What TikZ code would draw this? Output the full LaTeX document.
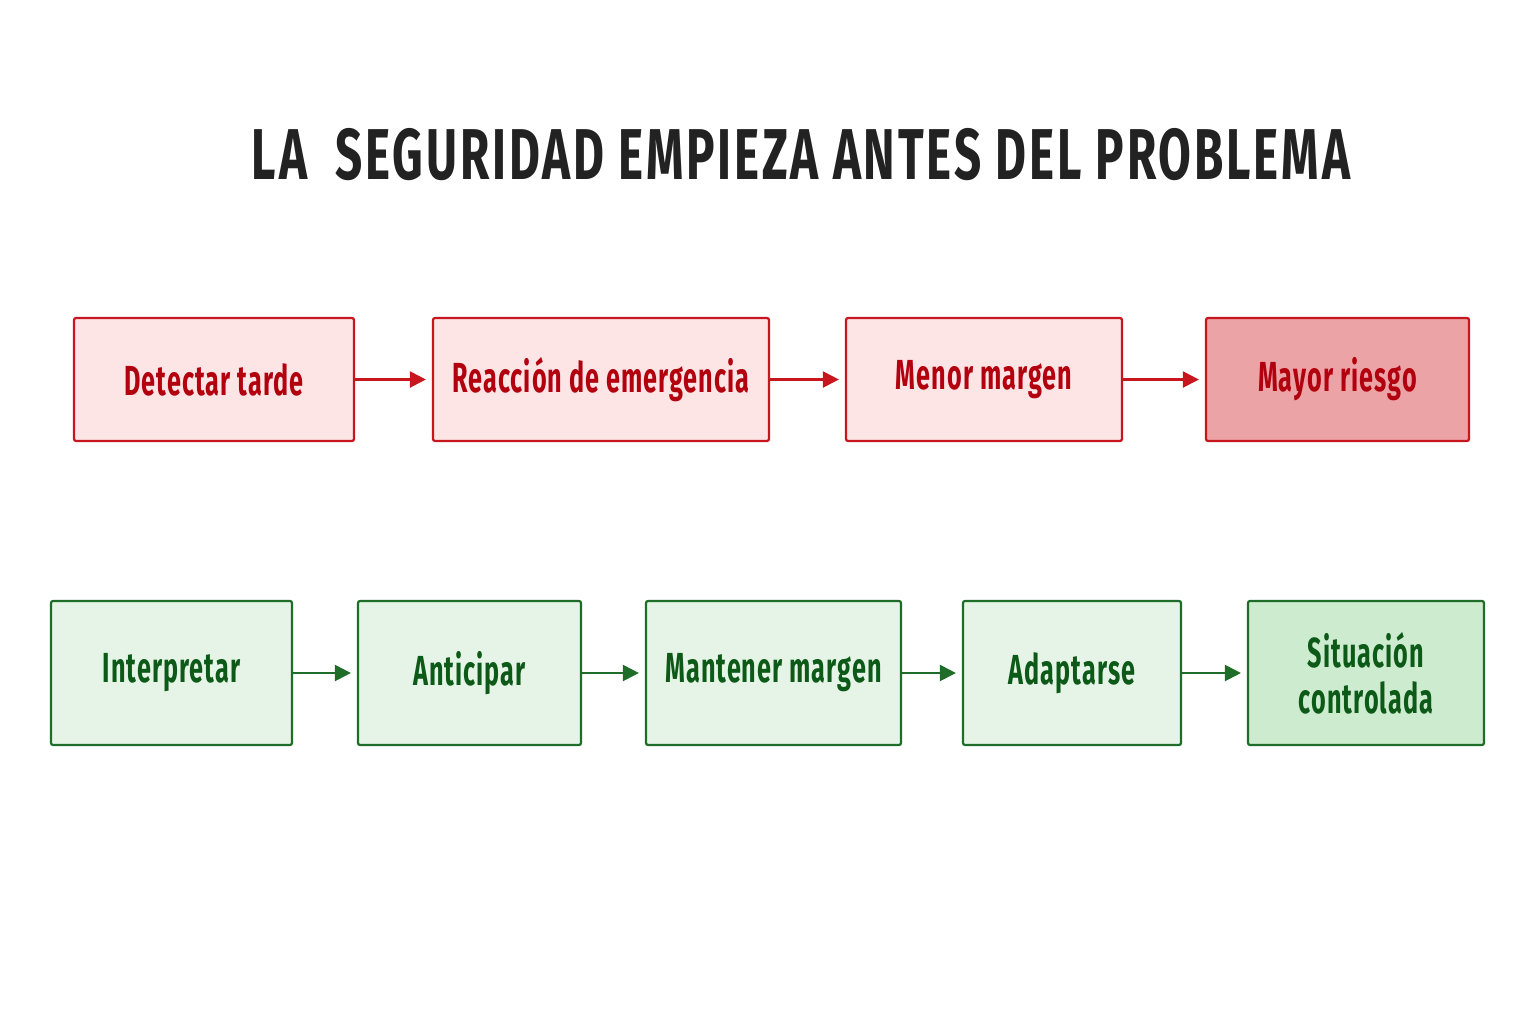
\documentclass[tikz,border=0pt]{standalone}
\usepackage{fontspec}
\setmainfont{Fira Sans}
\newfontfamily\condfont[FakeStretch=0.6,LetterSpace=2.5,UprightFont=* Bold]{Fira Sans}
\newfontfamily\titlefont[FakeStretch=0.66,LetterSpace=4,UprightFont=* Bold]{Fira Sans}
\usetikzlibrary{arrows.meta}
\definecolor{redline}{HTML}{C8161E}
\definecolor{redfill}{HTML}{FDE4E5}
\definecolor{reddark}{HTML}{ECA3A6}
\definecolor{redtext}{HTML}{B3000F}
\definecolor{greenline}{HTML}{1E6E2A}
\definecolor{greenfill}{HTML}{E6F4E7}
\definecolor{greendark}{HTML}{CDEBCE}
\definecolor{greentext}{HTML}{0D5A18}
\definecolor{titlecol}{HTML}{222222}
\tikzset{
  redbox/.style={draw=redline, line width=1.1pt, fill=redfill, rounded corners=1pt,
    text=redtext, font=\condfont\fontsize{21}{24}\selectfont, inner sep=0pt},
  greenbox/.style={draw=greenline, line width=1.1pt, fill=greenfill, rounded corners=1pt,
    text=greentext, font=\condfont\fontsize{21}{23}\selectfont, inner sep=0pt, align=center},
  redarrow/.style={draw=redline, line width=1.1pt, -{Triangle[length=8pt,width=8pt]}, shorten >=3pt},
  greenarrow/.style={draw=greenline, line width=1.1pt, -{Triangle[length=8pt,width=8pt]}, shorten >=3pt},
}
\newcommand{\pxbox}[7]{% name, style, x1, y1, x2, y2, text
  \node[#2, minimum width={(#5-#3)*0.5pt}, minimum height={(#6-#4)*0.5pt}] (#1) at ({(#3+#5)/2},{(#4+#6)/2}) {#7};}
\begin{document}
\begin{tikzpicture}[x=0.5pt,y=-0.5pt]
\useasboundingbox[fill=white] (0,0) rectangle (1536,1024);
\node[text=titlecol, font=\titlefont\fontsize{36}{40}\selectfont, inner sep=0pt] (title) at (801,155) {LA\ \ SEGURIDAD EMPIEZA ANTES DEL PROBLEMA};
% red row
\pxbox{r1}{redbox}{74}{318}{354}{441}{Detectar tarde}
\pxbox{r2}{redbox}{433}{318}{769}{441}{Reacción de emergencia}
\pxbox{r3}{redbox}{846}{318}{1122}{441}{Menor margen}
\pxbox{r4}{redbox,fill=reddark}{1206}{318}{1469}{441}{Mayor riesgo}
\draw[redarrow] (r1) -- (r2);
\draw[redarrow] (r2) -- (r3);
\draw[redarrow] (r3) -- (r4);
% green row
\pxbox{g1}{greenbox}{51}{601}{292}{745}{Interpretar}
\pxbox{g2}{greenbox}{358}{601}{581}{745}{Anticipar}
\pxbox{g3}{greenbox}{646}{601}{901}{745}{Mantener margen}
\pxbox{g4}{greenbox}{963}{601}{1181}{745}{Adaptarse}
\pxbox{g5}{greenbox,fill=greendark}{1248}{601}{1484}{745}{Situación\\controlada}
\draw[greenarrow] (g1) -- (g2);
\draw[greenarrow] (g2) -- (g3);
\draw[greenarrow] (g3) -- (g4);
\draw[greenarrow] (g4) -- (g5);
\end{tikzpicture}
\end{document}
